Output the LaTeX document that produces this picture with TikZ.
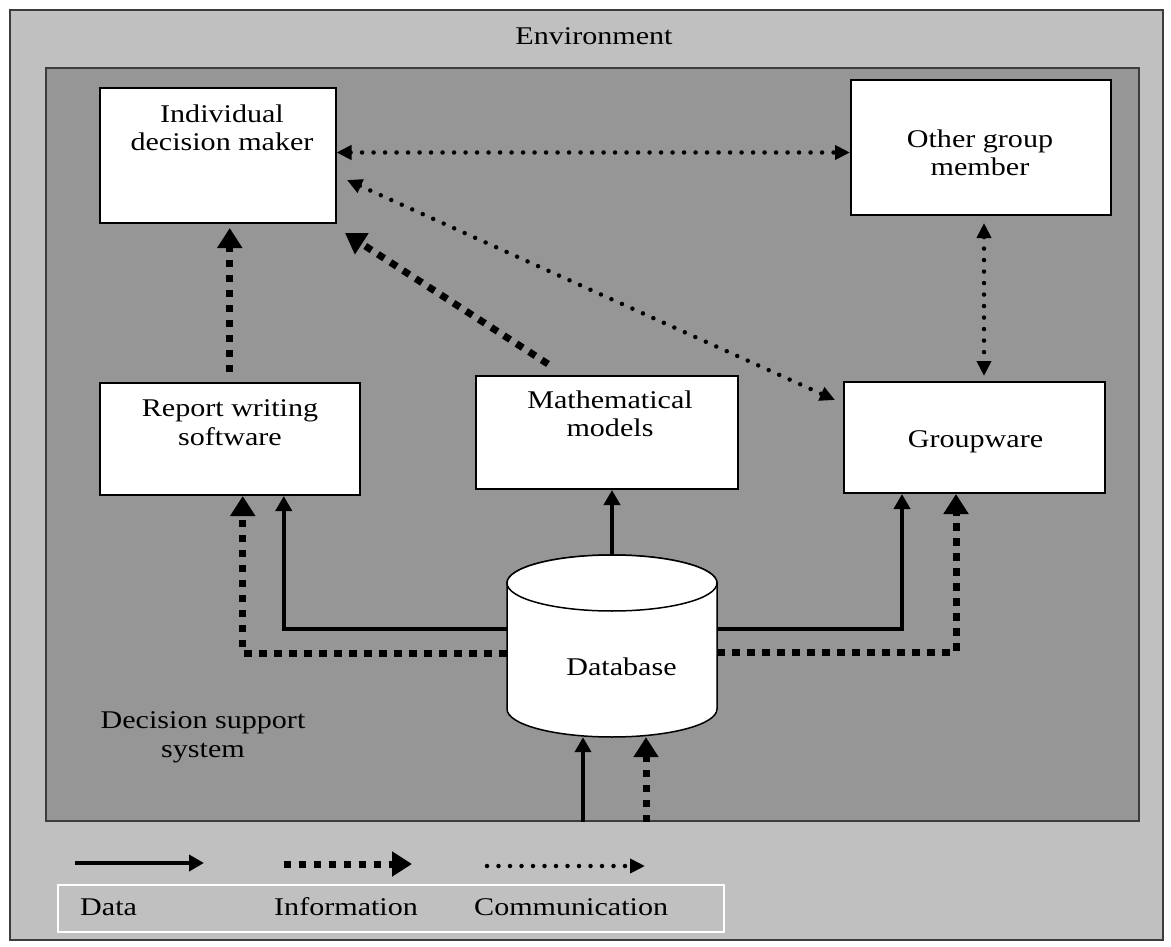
\documentclass[tikz,border=0pt]{standalone}
\usepackage{fontspec}
\setmainfont{Liberation Serif}[FakeStretch=1.18]
\usetikzlibrary{arrows.meta,calc}
\newcommand\dgfont{\fontsize{25.5}{28.5}\selectfont}
\definecolor{envgray}{RGB}{192,192,192}
\definecolor{dssgray}{RGB}{150,150,150}
\definecolor{edgegray}{RGB}{60,60,60}
\tikzset{
  dtip/.tip={Triangle[length=15pt,width=16pt]},
  itip/.tip={Triangle[length=20pt,width=24pt]},
  ctip/.tip={Triangle[length=15pt,width=14pt]},
  datal/.style={line width=4pt,-dtip},
  infol/.style={line width=7pt,dash pattern=on 7.5pt off 7.5pt,-itip},
  comml/.style={line width=4.5pt,line cap=round,dash pattern=on 0pt off 11.5pt,-ctip},
  commboth/.style={line width=4.5pt,line cap=round,dash pattern=on 0pt off 11.5pt,ctip-ctip},
  boxnode/.style={draw=black,line width=2pt,fill=white,inner sep=0pt},
  txt/.style={inner sep=0pt,anchor=north,align=center,font=\dgfont},
  legtxt/.style={inner sep=0pt,anchor=base west,font=\dgfont},
}
\begin{document}
\begin{tikzpicture}[x=1pt,y=-1pt]
\useasboundingbox (0,0) rectangle (1171,947);
% backgrounds
\node[draw=edgegray,line width=2pt,fill=envgray,minimum width=1153pt,minimum height=930pt,inner sep=0pt] (outer) at (586.5,475) {};
\node[draw=edgegray,line width=2pt,fill=dssgray,minimum width=1093pt,minimum height=753pt,inner sep=0pt] (dss) at (592.5,444.5) {};
\node[txt] (envt) at (594,27.5) {Environment};
% boxes
\node[boxnode,minimum width=236pt,minimum height=135pt] (idm) at (217.5,155.5) {};
\node[boxnode,minimum width=260pt,minimum height=135pt] (ogm) at (981,147.5) {};
\node[boxnode,minimum width=260.5pt,minimum height=112pt] (rep) at (229.75,439) {};
\node[boxnode,minimum width=261.5pt,minimum height=113pt] (math) at (606.75,432.5) {};
\node[boxnode,minimum width=261pt,minimum height=111pt] (gw) at (974.5,437.5) {};
\node[txt] (idmt) at (222,104.5) {Individual\\decision maker};
\node[txt] (ogmt) at (980,129.5) {Other group\\member};
\node[txt] (rept) at (230,399.5) {Report writing\\software};
\node[txt] (matht) at (610,390.5) {Mathematical\\models};
\node[txt] (gwt) at (975.5,430.5) {Groupware};
% database cylinder
\node[inner sep=0pt,minimum width=210pt,minimum height=182pt] (db) at (612,646) {};
\path[draw=black,line width=1.5pt,fill=white] (507,583) -- (507,709)
  arc[start angle=180,end angle=0,x radius=105,y radius=28] -- (717,583)
  arc[start angle=0,end angle=-180,x radius=105,y radius=28] -- cycle;
\draw[line width=1.5pt,fill=white] (612,583) ellipse[x radius=105,y radius=28];
\node[txt] (dbt) at (621.5,657.5) {Database};
\node[txt] (dsst) at (203,711.5) {Decision support\\system};
% connectors: communication
\draw[commboth] ($(idm.east)+(0,-3)$) -- ($(idm.east -| ogm.west)+(0,-3)$);
\draw[commboth] ($(idm.east)+(10.5,24.5)$) -- ($(gw.north west)+(-8,19)$);
\draw[commboth] ($(ogm.south)+(3,7)$) -- ($(ogm.south |- gw.north)+(3,-5)$);
% information
\draw[infol] ($(rep.north)+(0,-10)$) -- ($(rep.north |- idm.south)+(0,4)$);
\draw[infol] ($(math.north west)+(73,-11)$) -- ($(idm.south east)+(8.5,9)$);
% data from database
\draw[datal] (db.north) -- (db.north |- math.south);
\draw[datal] ($(db.west)+(0,-17)$) -| ($(rep.south)+(54,0)$);
\draw[infol] ($(db.west)+(0,7)$) -| ($(rep.south)+(13,0)$);
\draw[datal] ($(db.east)+(0,-17)$) -| ($(gw.south)+(-72.5,0)$);
\draw[infol] ($(db.east)+(0,6)$) -| ($(gw.south)+(-18.5,0)$);
% into database
\coordinate (dbin1) at ($(db.south)+(-29,0)$);
\coordinate (dbin2) at ($(db.south)+(34,0)$);
\draw[datal] (dbin1 |- dss.south) -- (dbin1);
\draw[infol] (dbin2 |- dss.south) -- (dbin2);
% legend
\node[draw=white,line width=2.5pt,minimum width=666pt,minimum height=47pt,inner sep=0pt] (leg) at (391,908.5) {};
\coordinate (la1) at (75,863);
\coordinate (la2) at (204,863);
\coordinate (lb1) at (283.5,864);
\coordinate (lb2) at (412,864);
\coordinate (lc1) at (487,866);
\coordinate (lc2) at (645,866);
\draw[datal] (la1) -- (la2);
\draw[infol] (lb1) -- (lb2);
\draw[comml] (lc1) -- (lc2);
\node[legtxt] (ldata) at (80,915) {Data};
\node[legtxt] (linfo) at (274,915) {Information};
\node[legtxt] (lcomm) at (474,915) {Communication};
\end{tikzpicture}
\end{document}
